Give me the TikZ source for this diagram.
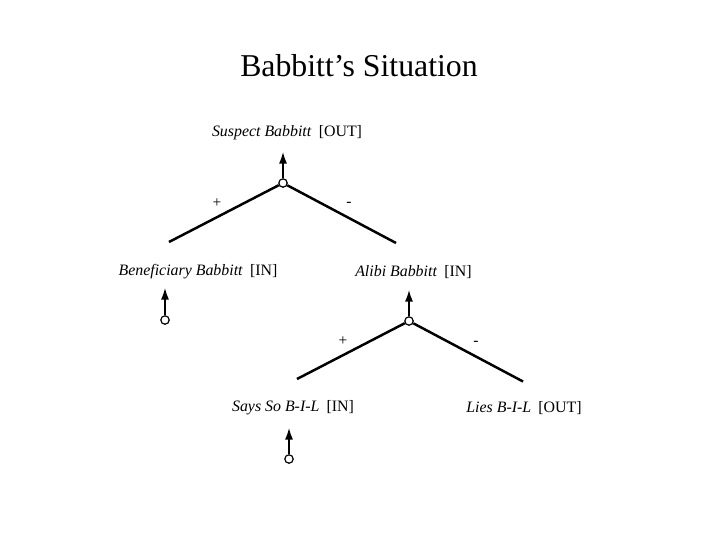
\documentclass[tikz,border=0pt]{standalone}
\usepackage{fontspec}
\setmainfont{Liberation Serif}
\usetikzlibrary{arrows.meta}
\tikzset{
  junc/.style = {circle, draw, fill=white, inner sep=0pt, minimum size=2.1mm, line width=.3mm},
  arm/.style = {black, line width = .62mm},
  up/.style = {black, -{Latex[length=2.9mm,width=2mm]}, line width = .35mm},
  lab/.style = {anchor=base, inner sep=0pt, font=\fontsize{11.3}{13}\selectfont},
  sgn/.style = {inner sep=0pt, font=\fontsize{11}{13}\selectfont}
}
\newcommand{\claim}[2]{\textit{#1}\hspace{.45em}[#2]}
\begin{document}
\begin{tikzpicture}[x=0.025cm, y=-0.025cm]
\useasboundingbox (0,0) rectangle (720,540);
\node[anchor=base, inner sep=0pt, font=\fontsize{22.6}{27}\selectfont] (title) at (359,76.5) {Babbitt's Situation};
% top argument
\node[lab] (suspect) at (287,136.5) {\claim{Suspect Babbitt}{OUT}};
\node[lab] (benef) at (198,275.5) {\claim{Beneficiary Babbitt}{IN}};
\node[lab] (alibi) at (413.5,276.5) {\claim{Alibi Babbitt}{IN}};
\node[junc] (j1) at (283,183) {};
\coordinate (t1) at (283,152);
\coordinate (l1) at (169,242);
\coordinate (r1) at (396,243);
\draw[arm] (j1) -- (l1);
\draw[arm] (j1) -- (r1);
\draw[up] (j1) -- (t1);
\node[sgn] (p1) at (217,203) {+};
\node[sgn] (m1) at (349,204.5) {-};
\node[junc] (b1) at (165,320) {};
\coordinate (tb1) at (165,288);
\draw[up] (b1) -- (tb1);
% lower argument
\node[lab] (says) at (293,411) {\claim{Says So B-I-L}{IN}};
\node[lab] (lies) at (524,412) {\claim{Lies B-I-L}{OUT}};
\node[junc] (j2) at (409,321) {};
\coordinate (t2) at (409,290);
\coordinate (l2) at (297,379);
\coordinate (r2) at (523,381.5);
\draw[arm] (j2) -- (l2);
\draw[arm] (j2) -- (r2);
\draw[up] (j2) -- (t2);
\node[sgn] (p2) at (343,341.5) {+};
\node[sgn] (m2) at (476,343) {-};
\node[junc] (b2) at (289,459) {};
\coordinate (tb2) at (289,428);
\draw[up] (b2) -- (tb2);
\end{tikzpicture}
\end{document}
